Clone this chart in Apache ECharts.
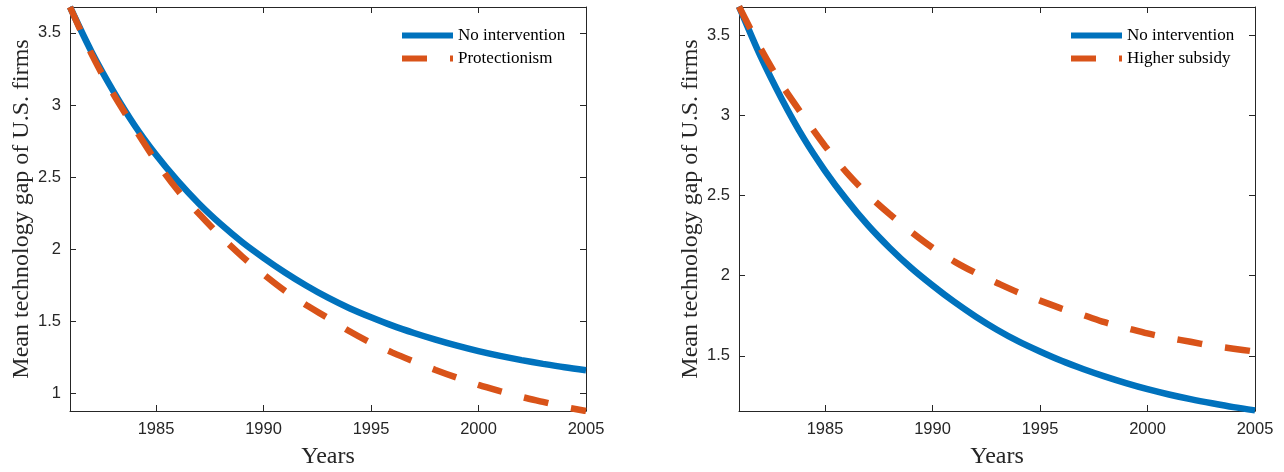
<!DOCTYPE html>
<html>
<head>
<meta charset="utf-8">
<script src="https://cdn.jsdelivr.net/npm/echarts@6/dist/echarts.min.js"></script>
<style>
  html, body { margin: 0; padding: 0; background: #fff; }
  #chart { width: 1284px; height: 472px; }
</style>
</head>
<body>
<div id="chart"></div>
<script>
// data
const years = [1981, 1982, 1983, 1984, 1985, 1986, 1987, 1988, 1989, 1990, 1991, 1992, 1993,
  1994, 1995, 1996, 1997, 1998, 1999, 2000, 2001, 2002, 2003, 2004, 2005];
const noIntervention = [3.68, 3.37, 3.10, 2.86, 2.655, 2.475, 2.315, 2.175, 2.05, 1.94, 1.838, 1.746, 1.663,
  1.59, 1.527, 1.469, 1.418, 1.372, 1.33, 1.292, 1.259, 1.23, 1.204, 1.18, 1.16];
const protectionism = [3.68, 3.355, 3.08, 2.84, 2.61, 2.41, 2.245, 2.09, 1.95, 1.825, 1.71, 1.61, 1.522,
  1.43, 1.35, 1.282, 1.22, 1.162, 1.108, 1.058, 1.015, 0.975, 0.94, 0.905, 0.877];
const higherSubsidy = [3.68, 3.42, 3.19, 2.995, 2.81, 2.645, 2.505, 2.385, 2.275, 2.175, 2.09, 2.018, 1.955,
  1.895, 1.845, 1.795, 1.755, 1.71, 1.675, 1.64, 1.612, 1.588, 1.563, 1.545, 1.527];
const xRange = [1981, 2005];
const leftYRange = [0.877, 3.68];
const rightYRange = [1.156, 3.677];
const yName = "Mean technology gap of U.S. firms";
const xName = "Years";

const axisColor = "#262626";
const blue = "#0072BD";
const orange = "#D95319";
const dash = [25, 23];

let chartDom = document.getElementById("chart");
let myChart = echarts.init(chartDom);

function pairs(vals) {
  return years.map((y, i) => [y, vals[i]]);
}

// bottom axis (with labels) or top mirror axis (ticks only)
function xAxis(gridIndex, mirror) {
  return {
    type: "value",
    gridIndex: gridIndex,
    position: mirror ? "top" : "bottom",
    min: xRange[0],
    max: xRange[1],
    minInterval: 5,
    maxInterval: 5,
    name: mirror ? "" : xName,
    nameLocation: "middle",
    nameGap: 34,
    nameTextStyle: { fontFamily: "Liberation Serif", fontSize: 24, color: axisColor },
    axisLine: { show: true, onZero: false, lineStyle: { color: axisColor, width: 1 } },
    axisTick: { show: true, inside: true, length: 6, lineStyle: { color: axisColor } },
    axisLabel: {
      show: !mirror,
      showMinLabel: false,
      margin: 10,
      fontFamily: "Liberation Sans",
      fontSize: 16.5,
      color: axisColor,
      formatter: (v) => String(v),
    },
    splitLine: { show: false },
  };
}

function yAxis(gridIndex, range, mirror) {
  return {
    type: "value",
    gridIndex: gridIndex,
    position: mirror ? "right" : "left",
    min: range[0],
    max: range[1],
    minInterval: 0.5,
    maxInterval: 0.5,
    name: mirror ? "" : yName,
    nameLocation: "middle",
    nameGap: 35,
    nameRotate: 90,
    nameTextStyle: { fontFamily: "Liberation Serif", fontSize: 24, color: axisColor },
    axisLine: { show: true, onZero: false, lineStyle: { color: axisColor, width: 1 } },
    axisTick: { show: true, inside: true, length: 6, lineStyle: { color: axisColor } },
    axisLabel: {
      show: !mirror,
      showMinLabel: false,
      showMaxLabel: false,
      margin: 9,
      fontFamily: "Liberation Sans",
      fontSize: 16.5,
      color: axisColor,
    },
    splitLine: { show: false },
  };
}

function lineSeries(name, vals, axisIndex, color, dashed) {
  return {
    name: name,
    type: "line",
    xAxisIndex: axisIndex,
    yAxisIndex: axisIndex,
    data: pairs(vals),
    symbol: "none",
    smooth: 0.3,
    lineStyle: { color: color, width: 6.5, type: dashed ? dash : "solid", cap: "butt" },
    itemStyle: { color: color },
  };
}

function legend(left, names) {
  return {
    data: names,
    orient: "vertical",
    left: left,
    top: 22,
    padding: 5,
    itemWidth: 51,
    itemHeight: 14,
    itemGap: 6,
    selectedMode: false,
    itemStyle: { opacity: 0 },
    lineStyle: { width: 6 },
    textStyle: { fontFamily: "Liberation Serif", fontSize: 17, color: "#000" },
  };
}

let option = {
  animation: false,
  backgroundColor: "#fff",
  grid: [
    { left: 70, right: 698, top: 7, bottom: 61, containLabel: false, outerBoundsMode: "none" },
    { left: 739, right: 29, top: 7, bottom: 61, containLabel: false, outerBoundsMode: "none" },
  ],
  xAxis: [xAxis(0, false), xAxis(0, true), xAxis(1, false), xAxis(1, true)],
  yAxis: [
    yAxis(0, leftYRange, false),
    yAxis(0, leftYRange, true),
    yAxis(1, rightYRange, false),
    yAxis(1, rightYRange, true),
  ],
  legend: [
    legend(394, ["No intervention", "Protectionism"]),
    legend(1063, ["No intervention", "Higher subsidy"]),
  ],
  series: [
    lineSeries("No intervention", noIntervention, 0, blue, false),
    lineSeries("Protectionism", protectionism, 0, orange, true),
    lineSeries("No intervention", noIntervention, 2, blue, false),
    lineSeries("Higher subsidy", higherSubsidy, 2, orange, true),
  ],
};

myChart.setOption(option);
</script>
</body>
</html>
